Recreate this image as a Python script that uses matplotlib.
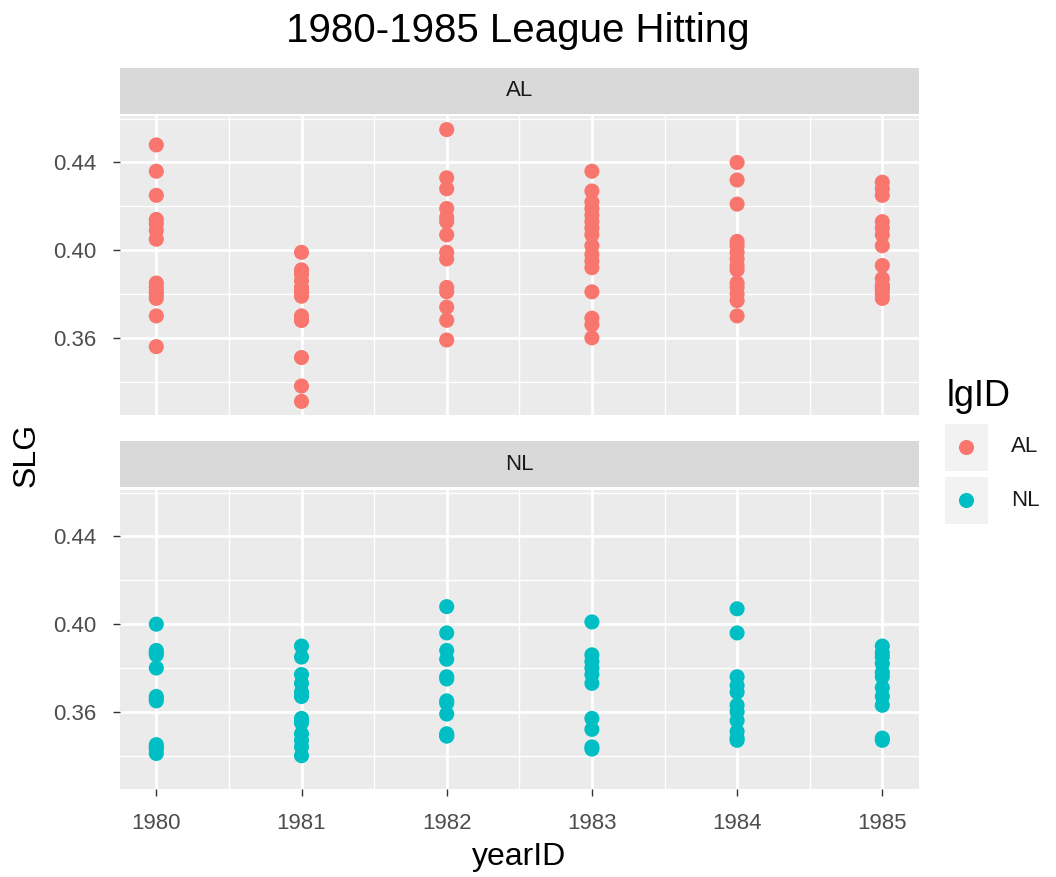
import matplotlib
matplotlib.use("Agg")
import matplotlib.pyplot as plt
from matplotlib.ticker import FixedLocator
import numpy as np

plt.rcParams['font.family'] = ['Liberation Sans', 'DejaVu Sans']

years = [1980, 1981, 1982, 1983, 1984, 1985]
leagues = ["AL", "NL"]
league_colors = ["#F8766D", "#00BFC4"]

# SLG per team, by league and year
al_1980 = [0.448, 0.436, 0.425, 0.414, 0.412, 0.409, 0.405, 0.385, 0.383, 0.381, 0.380, 0.378, 0.370, 0.356]
al_1981 = [0.399, 0.391, 0.389, 0.386, 0.383, 0.381, 0.379, 0.370, 0.368, 0.368, 0.351, 0.338, 0.331]
al_1982 = [0.455, 0.433, 0.428, 0.419, 0.415, 0.413, 0.407, 0.399, 0.396, 0.383, 0.381, 0.374, 0.368, 0.359]
al_1983 = [0.436, 0.427, 0.422, 0.419, 0.416, 0.413, 0.410, 0.407, 0.402, 0.398, 0.395, 0.392, 0.381, 0.369, 0.366, 0.360]
al_1984 = [0.440, 0.432, 0.421, 0.404, 0.402, 0.399, 0.396, 0.393, 0.391, 0.385, 0.383, 0.380, 0.377, 0.370]
al_1985 = [0.431, 0.428, 0.425, 0.413, 0.410, 0.407, 0.402, 0.393, 0.387, 0.384, 0.383, 0.382, 0.380, 0.378]

nl_1980 = [0.400, 0.388, 0.387, 0.386, 0.380, 0.367, 0.366, 0.365, 0.345, 0.344, 0.343, 0.341]
nl_1981 = [0.390, 0.385, 0.377, 0.373, 0.369, 0.367, 0.357, 0.355, 0.350, 0.347, 0.344, 0.340]
nl_1982 = [0.408, 0.396, 0.388, 0.384, 0.376, 0.375, 0.365, 0.364, 0.359, 0.350, 0.349, 0.349]
nl_1983 = [0.401, 0.386, 0.383, 0.380, 0.377, 0.373, 0.357, 0.352, 0.344, 0.343]
nl_1984 = [0.407, 0.396, 0.376, 0.372, 0.369, 0.363, 0.360, 0.356, 0.351, 0.348, 0.347]
nl_1985 = [0.390, 0.387, 0.385, 0.382, 0.378, 0.376, 0.371, 0.367, 0.363, 0.348, 0.347]

al_values = [al_1980, al_1981, al_1982, al_1983, al_1984, al_1985]
nl_values = [nl_1980, nl_1981, nl_1982, nl_1983, nl_1984, nl_1985]
league_values = [al_values, nl_values]

y_ticks = [0.36, 0.40, 0.44]
y_ticklabels = ["0.36", "0.40", "0.44"]

title = "1980-1985 League Hitting"
x_title = "yearID"
y_title = "SLG"
legend_title = "lgID"

# shared scales (ggplot-like 5% expansion)
all_y = np.concatenate([np.concatenate(v) for v in league_values])
ymin, ymax = all_y.min(), all_y.max()
ypad = 0.05 * (ymax - ymin)
xpad = 0.05 * (years[-1] - years[0])

W, H = 1056, 877
fig = plt.figure(figsize=(W / 100, H / 100), dpi=100)
fig.patch.set_facecolor("white")

def fr(x0, y0, x1, y1):
    return [x0 / W, 1 - y1 / H, (x1 - x0) / W, (y1 - y0) / H]

panel_boxes = [fr(120, 116, 918.6, 415), fr(120, 490, 918.6, 789)]
strip_boxes = [fr(120, 68, 918.6, 114), fr(120, 441, 918.6, 487)]

tick_color = "#4D4D4D"
for i, lg in enumerate(leagues):
    ax = fig.add_axes(panel_boxes[i])
    ax.set_facecolor("#EBEBEB")
    for yr, vals in zip(years, league_values[i]):
        ax.scatter(np.full(len(vals), yr), vals, s=118, color=league_colors[i],
                   edgecolors="none", zorder=3)
    ax.set_xlim(years[0] - xpad, years[-1] + xpad)
    ax.set_ylim(ymin - ypad, ymax + ypad)
    ax.yaxis.set_major_locator(FixedLocator(y_ticks))
    ax.set_yticklabels(y_ticklabels)
    ax.yaxis.set_minor_locator(FixedLocator([0.32, 0.34, 0.38, 0.42, 0.46]))
    ax.xaxis.set_major_locator(FixedLocator(years))
    ax.xaxis.set_minor_locator(FixedLocator([y + 0.5 for y in years[:-1]]))
    ax.grid(which="major", color="white", linewidth=2.0, zorder=0)
    ax.grid(which="minor", color="white", linewidth=1.0, zorder=0)
    ax.set_axisbelow(True)
    for sp in ax.spines.values():
        sp.set_visible(False)
    ax.tick_params(which="major", length=5, width=1.0, color="#333333",
                   labelsize=16, labelcolor=tick_color, pad=12)
    ax.tick_params(which="minor", length=0)
    if i == 0:
        ax.tick_params(axis="x", which="both", length=0, labelbottom=False)
    else:
        ax.set_xticklabels([str(y) for y in years])
        ax.set_xlabel(x_title, fontsize=23, labelpad=6)

    sax = fig.add_axes(strip_boxes[i])
    sax.set_facecolor("#D9D9D9")
    sax.set_xticks([])
    sax.set_yticks([])
    for sp in sax.spines.values():
        sp.set_visible(False)
    sax.text(0.5, 0.5, lg, ha="center", va="center", fontsize=16,
             color="#1A1A1A", transform=sax.transAxes)

fig.text(518 / W, 1 - 31 / H, title, ha="center", va="center", fontsize=29)
fig.text(27 / W, 1 - 455 / H, y_title, ha="center", va="center",
         rotation=90, fontsize=23)

# legend
fig.text(947 / W, 1 - 397 / H, legend_title, ha="left", va="center", fontsize=26)
key_boxes = [fr(945, 424, 988, 471), fr(945, 477, 988, 524)]
for i, lg in enumerate(leagues):
    kax = fig.add_axes(key_boxes[i])
    kax.set_facecolor("#F2F2F2")
    kax.set_xlim(0, 1)
    kax.set_ylim(0, 1)
    kax.scatter([0.5], [0.5], s=118, color=league_colors[i], edgecolors="none")
    kax.set_xticks([])
    kax.set_yticks([])
    for sp in kax.spines.values():
        sp.set_visible(False)
    fig.text(1011 / W, 1 - (447 + 53 * i) / H, lg, ha="left", va="center",
             fontsize=16, color="#1A1A1A")

fig.savefig("out.png", dpi=100)
